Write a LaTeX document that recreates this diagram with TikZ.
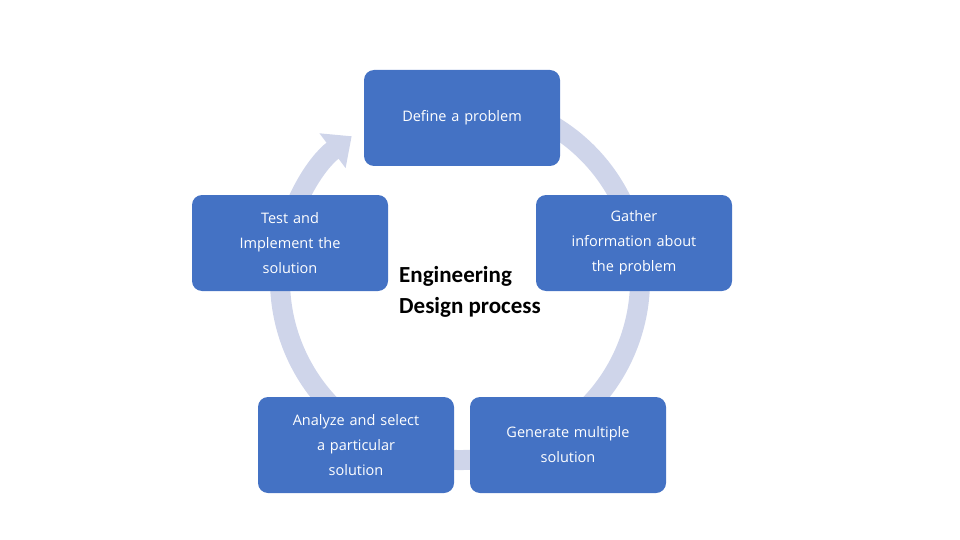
\documentclass[tikz,border=0pt]{standalone}
\usepackage{fontspec}
\setmainfont{Open Sans}
\newfontfamily\calib{Carlito}
\usetikzlibrary{arrows.meta}
\definecolor{boxblue}{HTML}{4472C4}
\definecolor{ringc}{HTML}{CFD5EA}
\begin{document}
\begin{tikzpicture}[x=1pt,y=1pt,
  box/.style={fill=boxblue,rounded corners=10pt,minimum width=196pt,minimum height=96pt,
    text=white,align=center,font=\fontsize{14.5}{25}\selectfont,inner sep=0pt,text width=186pt}]
\useasboundingbox (0,0) rectangle (960,-540);
\coordinate (c) at (460,-280);
\draw[ringc,line width=20pt] ([shift={(118:180)}]c) arc[start angle=118,end angle=-190,radius=180];
\draw[ringc,line width=20pt,-{Triangle[length=24pt,width=42pt]}] ([shift={(170:180)}]c) arc[start angle=170,end angle=127,radius=180];
\node[box] (def) at (462,-118) {Define a problem};
\node[box] (gat) at (634,-243) {Gather\\information about\\the problem};
\node[box] (gen) at (568,-445) {Generate multiple\\solution};
\node[box] (ana) at (356,-445) {Analyze and select\\a particular\\solution};
\node[box] (tes) at (290,-243) {Test and\\Implement the\\solution};
\node[anchor=north west,align=left,inner sep=0pt,font=\calib\bfseries\fontsize{23}{31}\selectfont] (title) at (399,-266) {Engineering\\Design process};
\end{tikzpicture}
\end{document}
